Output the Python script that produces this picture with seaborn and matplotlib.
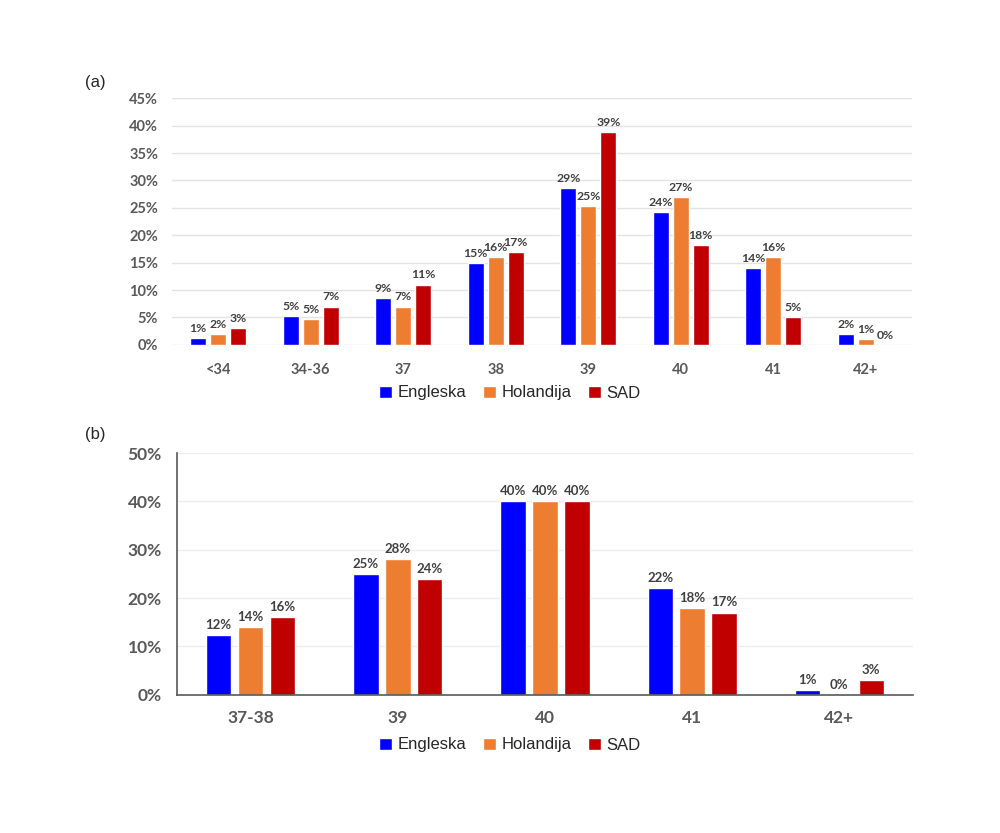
import pandas as pd
import matplotlib
matplotlib.use("Agg")
import matplotlib.pyplot as plt
import seaborn as sns
from matplotlib.ticker import PercentFormatter

# podaci
zemlje = ["Engleska", "Holandija", "SAD"]
boje = ["#0000FF", "#ED7D31", "#C00000"]

kat_a = ["<34", "34-36", "37", "38", "39", "40", "41", "42+"]
engleska_a = [1.3, 5.3, 8.6, 15.0, 28.6, 24.2, 14.0, 1.9]
holandija_a = [2.0, 4.7, 7.0, 16.0, 25.4, 27.0, 16.0, 1.0]
sad_a = [3.0, 7.0, 11.0, 17.0, 38.8, 18.2, 5.0, 0.0]

kat_b = ["37-38", "39", "40", "41", "42+"]
engleska_b = [12.3, 25.0, 40.0, 22.0, 1.0]
holandija_b = [14.0, 28.0, 40.0, 18.0, 0.0]
sad_b = [16.0, 24.0, 40.0, 17.0, 3.0]


def long_df(kategorije, serije):
    redovi = []
    for zemlja, vrednosti in zip(zemlje, serije):
        for k, v in zip(kategorije, vrednosti):
            redovi.append({"kat": k, "vrednost": v, "zemlja": zemlja})
    return pd.DataFrame(redovi)


df_a = long_df(kat_a, [engleska_a, holandija_a, sad_a])
df_b = long_df(kat_b, [engleska_b, holandija_b, sad_b])

sns.set_style("white")
plt.rcParams["font.family"] = ["Lato", "DejaVu Sans"]

TICK_GRAY = "#595959"
LABEL_GRAY = "#404040"

fig = plt.figure(figsize=(10, 8.33), dpi=100)
ax_a = fig.add_axes([0.172, 0.586, 0.740, 0.296])
ax_b = fig.add_axes([0.177, 0.166, 0.736, 0.290])


def crtaj(ax, df, kategorije, ymax, step, tick_fs, lbl_fs, xpad, ypad):
    sns.barplot(data=df, x="kat", y="vrednost", hue="zemlja", order=kategorije,
                hue_order=zemlje, palette=boje, width=0.65, gap=0.2,
                saturation=1, ax=ax, legend=True)
    for cont in ax.containers:
        ax.bar_label(cont, labels=[f"{b.get_height():.0f}%" for b in cont],
                     padding=3, fontsize=lbl_fs, fontweight="bold", color=LABEL_GRAY)
    ax.set_ylim(0, ymax)
    ax.set_xlim(-0.5, len(kategorije) - 0.5)
    ax.set_yticks(range(0, ymax + 1, step))
    ax.yaxis.set_major_formatter(PercentFormatter(xmax=100, decimals=0))
    ax.set_xlabel("")
    ax.set_ylabel("")
    ax.tick_params(axis="both", length=0, labelsize=tick_fs, labelcolor=TICK_GRAY)
    ax.tick_params(axis="x", pad=xpad)
    ax.tick_params(axis="y", pad=ypad)
    for t in ax.get_xticklabels() + ax.get_yticklabels():
        t.set_fontweight("bold")
    ax.set_axisbelow(True)
    handles, labels = ax.get_legend_handles_labels()
    ax.get_legend().remove()
    return handles, labels


h, l = crtaj(ax_a, df_a, kat_a, 45, 5, 10.5, 8.8, 13, 10)
ax_a.yaxis.grid(True, color="#E3E3E3", linewidth=1.0)
for s in ax_a.spines.values():
    s.set_visible(False)

crtaj(ax_b, df_b, kat_b, 50, 10, 12.5, 9.5, 11, 11)
ax_b.yaxis.grid(True, color="#EDEDED", linewidth=1.0)
ax_b.spines["top"].set_visible(False)
ax_b.spines["right"].set_visible(False)
ax_b.spines["left"].set_color("#595959")
ax_b.spines["bottom"].set_color("#595959")
ax_b.spines["left"].set_linewidth(1.2)
ax_b.spines["bottom"].set_linewidth(1.2)

leg_kw = dict(loc="center", ncol=3, frameon=False, handlelength=0.75,
              handleheight=0.75, handletextpad=0.35, columnspacing=1.0,
              prop={"family": "Liberation Sans", "size": 12})
fig.legend(h, l, bbox_to_anchor=(0.51, 1 - 393 / 833), **leg_kw)
fig.legend(h, l, bbox_to_anchor=(0.51, 1 - 745 / 833), **leg_kw)

fig.text(0.085, 1 - 83 / 833, "(a)", fontsize=12, family="Liberation Sans",
         va="center", ha="left")
fig.text(0.085, 1 - 435 / 833, "(b)", fontsize=12, family="Liberation Sans",
         va="center", ha="left")

fig.savefig("out.png", dpi=100, facecolor="white")
